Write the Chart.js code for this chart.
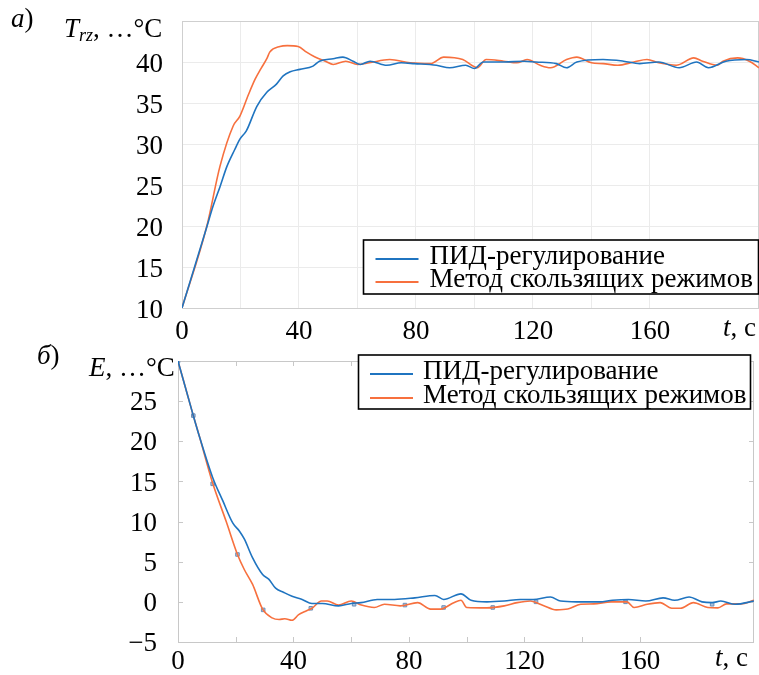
<!DOCTYPE html>
<html>
<head>
<meta charset="utf-8">
<script src="https://cdn.jsdelivr.net/npm/chart.js@4.4.1/dist/chart.umd.min.js"></script>
<style>
  body { margin: 0; width: 759px; height: 675px; overflow: hidden; background: #fff; }
  canvas { position: absolute; left: 0; }
  .txt { position: absolute; font-family: 'Liberation Serif', serif; font-size: 27px; line-height: 27px; white-space: nowrap; color: #000; }
  .txt i { font-style: italic; }
  .txt sub { font-size: 18px; font-style: italic; vertical-align: -4px; line-height: 0; }
</style>
</head>
<body>
<canvas id="chartTop" width="759" height="345" style="top:0"></canvas>
<canvas id="chartBottom" width="759" height="330" style="top:345px"></canvas>

<div class="txt" style="left:11px;top:5px"><i>а</i>)</div>
<div class="txt" style="left:64px;top:15px"><i>T</i><sub>rz</sub>, …°C</div>
<div class="txt" style="left:723px;top:314px"><i>t</i>, с</div>

<div class="txt" style="left:37px;top:342px"><i>б</i>)</div>
<div class="txt" style="left:89px;top:354px"><i>E</i>, …°C</div>
<div class="txt" style="left:715px;top:644px"><i>t</i>, с</div>

<script>
// (а) temperature T_rz, °C
const tempTimePid = [0, 8.5, 10.6, 13, 15.4, 18, 19.8, 22, 25.6, 29, 32.3, 34.6, 37, 40.3, 44.8, 47, 51.7, 55, 58.5, 61,
  64.3, 70, 75, 79.5, 87, 91.5, 97, 100, 103, 110, 117, 121, 128, 131.5, 135, 144, 151, 156.5, 163, 170, 176, 180, 186, 193, 197.3]
const tempPid = [10, 19.9, 22.4, 24.8, 27.3, 29.3, 30.6, 31.6, 34.6, 36.3, 37.3, 38.3, 38.8, 39.1, 39.5, 40.1, 40.4, 40.6, 40.1, 39.7,
  40.1, 39.6, 39.9, 39.8, 39.6, 39.3, 39.6, 39.2, 40.0, 40.0, 40.1, 40.0, 39.8, 39.3, 40.0, 40.3, 40.1, 39.8, 40.0, 39.3, 40.0, 39.3, 40.1, 40.3, 40.0]

const tempTimeSmc = [0, 8.5, 13, 17.5, 19.8, 22.7, 25, 27, 29, 30, 33.5, 36, 39.7, 42.6, 45.5, 49, 51.7, 56, 60, 64,
  71, 78, 85, 89.5, 96, 101, 104, 110, 114.5, 118, 122.5, 126, 131.5, 135, 140, 144, 149, 154.5, 159, 163, 169, 175, 178, 183, 185, 190, 194, 197.3]
const tempSmc = [10, 20, 27.3, 32.2, 33.4, 36, 37.9, 39.2, 40.4, 41.2, 41.9, 42.0, 41.9, 41.2, 40.6, 40.1, 39.7, 40.1, 39.7, 39.9,
  40.3, 39.9, 39.8, 40.6, 40.3, 39.3, 40.3, 40.1, 39.9, 40.3, 39.6, 39.3, 40.3, 40.6, 39.9, 39.8, 39.6, 40.0, 40.3, 39.9, 39.6, 40.5, 40.1, 39.6, 40.1, 40.5, 40.1, 39.3]

// (б) error E, °C
const errTimePid = [0, 5.3, 7.5, 12, 15.5, 19, 21.3, 23, 25.8, 29.3, 31.5, 33.8, 36.5, 39.5, 43, 46.4, 50, 55.6, 60, 63.4,
  69, 75, 82, 89, 92, 98, 101.5, 107, 113, 118.5, 123, 129, 132.5, 138, 146, 150.5, 156, 162, 168, 172, 177, 181.5, 185, 188, 193, 199.5]
const errPid = [30, 23.2, 20.5, 15.5, 12.6, 9.8, 8.8, 7.8, 5.5, 3.4, 2.8, 1.7, 1.2, 0.7, 0.3, -0.2, -0.2, -0.5, -0.2, -0.1,
  0.3, 0.3, 0.5, 0.8, 0.3, 1.0, 0.2, 0, 0.1, 0.3, 0.3, 0.6, 0.1, 0, 0, 0.2, 0.3, 0.1, 0.5, 0.2, 0.6, 0, -0.1, 0.1, -0.3, 0.1]

const errTimeSmc = [0, 5.3, 7.5, 12, 16.7, 20.6, 23, 25.8, 29.3, 32.6, 35, 37, 39.5, 41.8, 44, 46.4, 49.7, 51.7, 55.6, 60,
  63.5, 68, 71.5, 77, 83, 87.5, 91, 95.5, 98, 100, 107, 113, 117.5, 122, 126.5, 131, 135, 139.5, 144, 150, 155.5, 158, 162.5,
  167, 171, 174, 178.5, 183.5, 187, 190, 195, 199.5]
const errSmc = [30, 23.2, 20.5, 14.8, 10, 5.9, 4.0, 2.2, -0.9, -2.0, -2.2, -2.1, -2.3, -1.6, -1.2, -0.8, 0.1, 0.1, -0.4, 0.1,
  -0.4, -0.7, -0.3, -0.5, -0.1, -0.9, -0.9, -0.1, 0.2, -0.7, -0.75, -0.5, -0.1, 0.1, -0.45, -1.0, -0.9, -0.3, -0.25, 0, 0, -0.7, -0.3,
  -0.1, -0.8, -0.8, -0.1, -0.7, -0.75, -0.25, -0.25, 0.2]

// sample markers seen along the error curves
const markTime = [0, 5.3, 12, 20.6, 29.5, 46, 61, 78.6, 92, 109, 124, 155, 185]
const markErr = [30, 23.2, 14.7, 5.9, -1.0, -0.8, -0.3, -0.4, -0.7, -0.7, 0, 0, -0.3]

const seriesNames = ['ПИД-регулирование', 'Метод скользящих режимов']
const BLUE = '#1f74c0'
const ORANGE = '#f7703e'
const FONT = "'Liberation Serif', serif"

const pts = (xs, ys) => xs.map((x, i) => ({ x: x, y: ys[i] }))

// chart.js pads the area for tick labels; the layout here is fixed by hand
function fixSize(prop, size) {
  return s => {
    s[prop] = size
    s.paddingTop = 0
    s.paddingBottom = 0
    s.paddingLeft = 0
    s.paddingRight = 0
  }
}

const frame = {
  id: 'frame',
  beforeDatasetsDraw(chart, args, opts) {
    const { ctx, chartArea: a, scales } = chart
    ctx.save()
    ctx.strokeStyle = opts.color
    ctx.lineWidth = 1
    ctx.strokeRect(a.left + 0.5, a.top + 0.5, a.right - a.left - 1, a.bottom - a.top)
    if (opts.innerTicks) {
      const len = opts.innerTicks
      ctx.beginPath()
      scales.x.ticks.forEach(t => {
        if (t.value <= scales.x.min || t.value >= scales.x.max) return
        const x = Math.round(scales.x.getPixelForValue(t.value)) + 0.5
        ctx.moveTo(x, a.bottom); ctx.lineTo(x, a.bottom - len)
        ctx.moveTo(x, a.top); ctx.lineTo(x, a.top + len)
      })
      scales.y.ticks.forEach(t => {
        if (t.value <= scales.y.min || t.value >= scales.y.max) return
        const y = Math.round(scales.y.getPixelForValue(t.value)) + 0.5
        ctx.moveTo(a.left, y); ctx.lineTo(a.left + len, y)
        ctx.moveTo(a.right, y); ctx.lineTo(a.right - len, y)
      })
      ctx.stroke()
    }
    ctx.restore()
  }
}

const boxLegend = {
  id: 'boxLegend',
  afterDatasetsDraw(chart, args, opts) {
    const ctx = chart.ctx
    ctx.save()
    ctx.fillStyle = '#fff'
    ctx.fillRect(opts.x, opts.y, opts.w, opts.h)
    ctx.strokeStyle = '#000'
    ctx.lineWidth = 1.6
    ctx.strokeRect(opts.x, opts.y, opts.w, opts.h)
    ctx.font = opts.fontSize + 'px ' + FONT
    ctx.fillStyle = '#000'
    ctx.textBaseline = 'alphabetic'
    chart.data.datasets.filter(d => !d.noLegend).forEach((d, i) => {
      const ly = opts.y + opts.firstLine + i * opts.lineGap
      ctx.strokeStyle = d.borderColor
      ctx.lineWidth = 2
      ctx.beginPath()
      ctx.moveTo(opts.x + opts.sampleX, ly)
      ctx.lineTo(opts.x + opts.sampleX + opts.sampleW, ly)
      ctx.stroke()
      ctx.fillText(d.label, opts.x + opts.textX, ly + opts.textDy)
    })
    ctx.restore()
  }
}

function lineSet(label, data, color) {
  return {
    label: label,
    data: data,
    borderColor: color,
    backgroundColor: color,
    borderWidth: 1.6,
    pointRadius: 0,
    tension: 0.4,
    cubicInterpolationMode: 'monotone',
  }
}

function tickFont() {
  return { family: FONT, size: 27 }
}

new Chart(document.getElementById('chartTop'), {
  type: 'line',
  data: {
    datasets: [
      lineSet(seriesNames[0], pts(tempTimePid, tempPid), BLUE),
      lineSet(seriesNames[1], pts(tempTimeSmc, tempSmc), ORANGE),
    ],
  },
  options: {
    responsive: false,
    animation: false,
    layout: { padding: { top: 21, left: 0, right: 0, bottom: 0 } },
    scales: {
      x: {
        type: 'linear',
        min: 0,
        max: 197.3,
        afterFit: fixSize('height', 37),
        grid: { color: '#ebebeb', drawTicks: false },
        border: { display: false },
        ticks: {
          stepSize: 20,
          padding: 8,
          color: '#000',
          font: tickFont(),
          maxRotation: 0,
          autoSkip: false,
          callback: v => (v % 40 === 0 && v < 200 ? String(v) : ''),
        },
      },
      y: {
        min: 10,
        max: 45,
        afterFit: fixSize('width', 182),
        grid: { color: '#ebebeb', drawTicks: false },
        border: { display: false },
        ticks: {
          stepSize: 5,
          padding: 19,
          labelOffset: 3,
          color: '#000',
          font: tickFont(),
          callback: v => (v >= 45 ? '' : String(v)),
        },
      },
    },
    plugins: {
      legend: { display: false },
      tooltip: { enabled: false },
      frame: { color: '#cfcfcf' },
      boxLegend: {
        x: 363.5, y: 240, w: 395, h: 54, fontSize: 27,
        firstLine: 19, lineGap: 23, sampleX: 12, sampleW: 43, textX: 66, textDy: 5,
      },
    },
  },
  plugins: [frame, boxLegend],
})

new Chart(document.getElementById('chartBottom'), {
  type: 'line',
  data: {
    datasets: [
      lineSet(seriesNames[0], pts(errTimePid, errPid), BLUE),
      lineSet(seriesNames[1], pts(errTimeSmc, errSmc), ORANGE),
      {
        label: 'markers',
        noLegend: true,
        data: pts(markTime, markErr),
        showLine: false,
        pointStyle: 'rect',
        pointRadius: 2.5,
        backgroundColor: '#a9c1dc',
        borderColor: '#6d8fb8',
        borderWidth: 1,
      },
    ],
  },
  options: {
    responsive: false,
    animation: false,
    layout: { padding: { top: 16, left: 0, right: 0, bottom: 0 } },
    scales: {
      x: {
        type: 'linear',
        min: 0,
        max: 199.5,
        afterFit: fixSize('height', 33),
        grid: { display: false, drawTicks: false },
        border: { display: false },
        ticks: {
          stepSize: 20,
          padding: 4,
          color: '#000',
          font: tickFont(),
          maxRotation: 0,
          autoSkip: false,
          callback: v => (v % 40 === 0 && v < 200 ? String(v) : ''),
        },
      },
      y: {
        min: -5,
        max: 30,
        afterFit: fixSize('width', 178),
        grid: { display: false, drawTicks: false },
        border: { display: false },
        ticks: {
          stepSize: 5,
          padding: 21,
          labelOffset: 2,
          color: '#000',
          font: tickFont(),
          callback: v => (v >= 30 ? '' : v < 0 ? '\u2212' + Math.abs(v) : String(v)),
        },
      },
    },
    plugins: {
      legend: { display: false },
      tooltip: { enabled: false },
      frame: { color: '#c8c8c8', innerTicks: 5 },
      boxLegend: {
        x: 358.5, y: 10, w: 392, h: 54, fontSize: 27,
        firstLine: 19, lineGap: 24, sampleX: 11.5, sampleW: 43, textX: 64.5, textDy: 5,
      },
    },
  },
  plugins: [frame, boxLegend],
})
</script>
</body>
</html>
